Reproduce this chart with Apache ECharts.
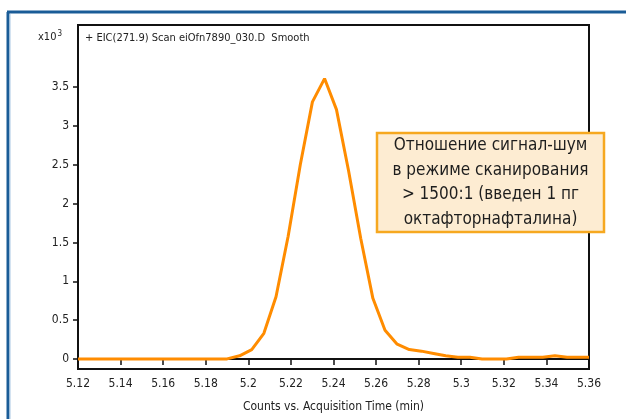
<!DOCTYPE html>
<html><head><meta charset="utf-8">
<script src="https://cdn.jsdelivr.net/npm/echarts@6/dist/echarts.min.js"></script>
<style>html,body{margin:0;padding:0;background:#fff;}#c{width:626px;height:419px;}</style>
</head><body><div id="c"></div>
<script>
// Acquisition time (min)
var times = [5.12, 5.15, 5.18, 5.190, 5.1959, 5.2016, 5.2073, 5.2130, 5.2187, 5.2244, 5.2301, 5.2358, 5.2414, 5.2471, 5.2528, 5.2585, 5.2642, 5.2699, 5.2756, 5.2813, 5.2870, 5.2927, 5.2984, 5.3041, 5.3098, 5.3155, 5.3212, 5.3269, 5.3326, 5.3383, 5.3440, 5.3497, 5.3554, 5.36];
// Counts (x10^3)
var counts = [0, 0, 0, 0, 0.04, 0.12, 0.33, 0.80, 1.58, 2.50, 3.31, 3.61, 3.21, 2.42, 1.55, 0.78, 0.37, 0.19, 0.12, 0.10, 0.07, 0.04, 0.02, 0.02, 0.0, 0.0, 0.0, 0.02, 0.02, 0.02, 0.04, 0.02, 0.02, 0.02];
var yTicks = [0, 0.5, 1, 1.5, 2, 2.5, 3, 3.5];
var titleText = '+ EIC(271.9) Scan eiOfn7890_030.D  Smooth';
var xTitle = 'Counts vs. Acquisition Time (min)';
var noteLines = ['Отношение сигнал-шум', 'в режиме сканирования', '> 1500:1 (введен 1 пг', 'октафторнафталина)'];

var FONT = '"Liberation Sans Narrow", "DejaVu Sans Condensed", "Roboto", sans-serif';
var chart = echarts.init(document.getElementById('c'), null, {renderer: 'canvas'});
var data = times.map(function (t, i) { return [t, counts[i]]; });
chart.setOption({
  animation: false,
  backgroundColor: '#fff',
  grid: {left: 78, top: 25, right: 37, bottom: 50, show: true, borderColor: '#111', borderWidth: 2, backgroundColor: 'transparent'},
  xAxis: {
    type: 'value', min: 5.12, max: 5.36, interval: 0.02,
    name: xTitle, nameLocation: 'middle', nameGap: 32,
    nameTextStyle: {fontFamily: FONT, fontSize: 12, color: '#222'},
    axisLine: {show: true, lineStyle: {color: '#111', width: 2}},
    axisTick: {show: true, length: 6, lineStyle: {color: '#111', width: 1.5}},
    axisLabel: {fontFamily: FONT, fontSize: 12, color: '#222', margin: 9,
      formatter: function (v) { return String(parseFloat(v.toFixed(2))); }},
    splitLine: {show: false}
  },
  yAxis: {
    type: 'value', min: -0.13, max: 4.3,
    axisLine: {show: true, lineStyle: {color: '#111', width: 2}},
    axisTick: {show: true, length: 5, customValues: yTicks, lineStyle: {color: '#111', width: 1.5}},
    axisLabel: {fontFamily: FONT, fontSize: 12, color: '#222', margin: 9, customValues: yTicks,
      formatter: function (v) { return String(v); }},
    splitLine: {show: false}
  },
  series: [{
    type: 'line', data: data, symbol: 'none', smooth: false,
    lineStyle: {color: '#ff8c00', width: 3}, z: 3
  }],
  graphic: [
    {type: 'line', shape: {x1: 8, y1: 12, x2: 8, y2: 419}, style: {stroke: '#1a5c97', lineWidth: 3}},
    {type: 'line', shape: {x1: 7, y1: 12, x2: 626, y2: 12}, style: {stroke: '#1a5c97', lineWidth: 3}},
    {type: 'line', shape: {x1: 10, y1: 14, x2: 10, y2: 419}, style: {stroke: '#a9c8e4', lineWidth: 1}},
    {type: 'text', left: 38, top: 30, style: {
      text: '{a|x10}{s|3}', rich: {a: {fontFamily: FONT, fontSize: 11, fill: '#222'}, s: {fontFamily: FONT, fontSize: 8, fill: '#222', verticalAlign: 'top', padding: [0, 0, 6, 1]}}
    }},
    {type: 'text', left: 85, top: 33, style: {text: titleText, fontFamily: FONT, fontSize: 11, fill: '#222'}},
    {type: 'rect', shape: {x: 377, y: 133, width: 227, height: 99}, style: {fill: '#fdecd2', stroke: '#f6a820', lineWidth: 2.5}, z: 10},
    {type: 'text', x: 490.5, y: 182.5, z: 11, style: {
      text: noteLines.join('\n'), fontFamily: FONT, fontSize: 17, lineHeight: 24.5, fill: '#1e1e1e', align: 'center', verticalAlign: 'middle'
    }}
  ]
});
</script></body></html>
